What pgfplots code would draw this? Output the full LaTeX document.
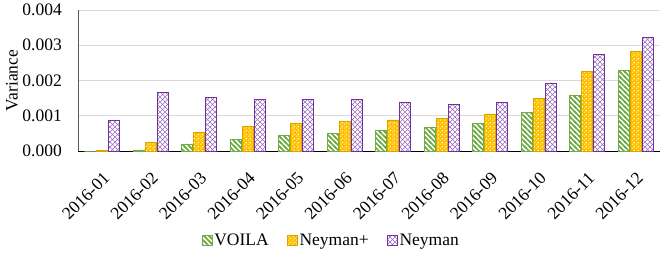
\documentclass[border=0pt]{standalone}
\usepackage{pgfplots}
\pgfplotsset{compat=1.18}
\usepackage{fontspec}
\setmainfont{Liberation Serif}
\usetikzlibrary{patterns}

\definecolor{cgreen}{HTML}{70AD47}
\definecolor{cyellow}{HTML}{FFC000}
\definecolor{cyellowd}{HTML}{D9A300}
\definecolor{cpurple}{HTML}{7030A0}

\pgfdeclarepatternformonly{gstripes}{\pgfqpoint{-1pt}{-1pt}}{\pgfqpoint{6pt}{6pt}}{\pgfqpoint{5pt}{5pt}}{%
 \pgfsetlinewidth{1.6pt}%
 \pgfpathmoveto{\pgfqpoint{0pt}{5pt}}\pgfpathlineto{\pgfqpoint{5pt}{0pt}}%
 \pgfpathmoveto{\pgfqpoint{-1pt}{1pt}}\pgfpathlineto{\pgfqpoint{1pt}{-1pt}}%
 \pgfpathmoveto{\pgfqpoint{4pt}{6pt}}\pgfpathlineto{\pgfqpoint{6pt}{4pt}}%
 \pgfusepath{stroke}}

\pgfdeclarepatternformonly{xhatch}{\pgfqpoint{-1pt}{-1pt}}{\pgfqpoint{6pt}{6pt}}{\pgfqpoint{5pt}{5pt}}{%
 \pgfsetlinewidth{0.6pt}%
 \pgfpathmoveto{\pgfqpoint{0pt}{0pt}}\pgfpathlineto{\pgfqpoint{5pt}{5pt}}%
 \pgfpathmoveto{\pgfqpoint{0pt}{5pt}}\pgfpathlineto{\pgfqpoint{5pt}{0pt}}%
 \pgfusepath{stroke}}

\pgfdeclarepatternformonly{wdots}{\pgfqpoint{0pt}{0pt}}{\pgfqpoint{4pt}{4pt}}{\pgfqpoint{4pt}{4pt}}{%
 \pgfpathrectangle{\pgfqpoint{0.4pt}{0.4pt}}{\pgfqpoint{1.2pt}{1.2pt}}%
 \pgfpathrectangle{\pgfqpoint{2.4pt}{2.4pt}}{\pgfqpoint{1.2pt}{1.2pt}}%
 \pgfusepath{fill}}

\pgfplotstableread{
x voila neymanp neyman
0 0.0000 0.00001 0.00088
1 0.00003 0.00025 0.00167
2 0.00020 0.00053 0.00152
3 0.00034 0.00070 0.00146
4 0.00044 0.00079 0.00147
5 0.00051 0.00084 0.00146
6 0.00059 0.00088 0.00139
7 0.00067 0.00093 0.00132
8 0.00079 0.00105 0.00139
9 0.00109 0.00150 0.00192
10 0.00158 0.00225 0.00273
11 0.00229 0.00283 0.00323
}\datatable

\begin{document}
\begin{tikzpicture}
\begin{axis}[
  name=ax,
  scale only axis,
  width=582pt, height=141pt,
  ybar=1pt, bar width=11pt,
  xmin=-0.5, xmax=11.5,
  ymin=0, ymax=0.004,
  ytick={0,0.001,0.002,0.003,0.004},
  scaled y ticks=false,
  yticklabel style={/pgf/number format/fixed, /pgf/number format/fixed zerofill, /pgf/number format/precision=3, /pgf/number format/assume math mode=true, inner sep=0pt, xshift=-16pt},
  xtick=data,
  xticklabels={2016-01,2016-02,2016-03,2016-04,2016-05,2016-06,2016-07,2016-08,2016-09,2016-10,2016-11,2016-12},
  tick label style={font=\fontsize{17.5}{20}\selectfont},
  xticklabel style={inner sep=0pt, rotate=45, anchor=north east},
  xticklabel shift=20pt,
  major tick length=0pt,
  axis lines*=left,
  axis line style={-},
  x axis line style={black, line width=0.9pt},
  y axis line style={black!65, line width=0.9pt},
  ymajorgrids,
  grid style={black!15, line width=0.9pt},
  ylabel={Variance},
  label style={font=\fontsize{17.5}{20}\selectfont},
  ylabel style={anchor=south, inner sep=0pt},
  every axis y label/.append style={at={([xshift=-60pt]rel axis cs:0,0.5)}},
  legend style={at={(rel axis cs:0.435,-0.635)}, anchor=center, draw=none, fill=none,
    legend columns=3, font=\fontsize{17.5}{20}\selectfont,
    /tikz/every even column/.append style={column sep=16pt},
    nodes={inner sep=2pt}},
  legend image code/.code={\draw[#1] (0pt,-5pt) rectangle (10pt,5pt);},
]
\addplot[draw=cgreen, line width=0.8pt, fill=white, postaction={pattern=gstripes, pattern color=cgreen}] table[x=x, y=voila] {\datatable};
\addplot[draw=cyellowd, line width=0.8pt, fill=cyellow, postaction={pattern=wdots, pattern color=white}] table[x=x, y=neymanp] {\datatable};
\addplot[draw=cpurple, line width=0.8pt, fill=white, postaction={pattern=xhatch, pattern color=cpurple!70}] table[x=x, y=neyman] {\datatable};
\legend{VOILA, Neyman+, Neyman}
\end{axis}
\pgfresetboundingbox
\path ([shift={(-78pt,-101pt)}]ax.south west) rectangle ([shift={(5pt,10pt)}]ax.north east);
\end{tikzpicture}
\end{document}
